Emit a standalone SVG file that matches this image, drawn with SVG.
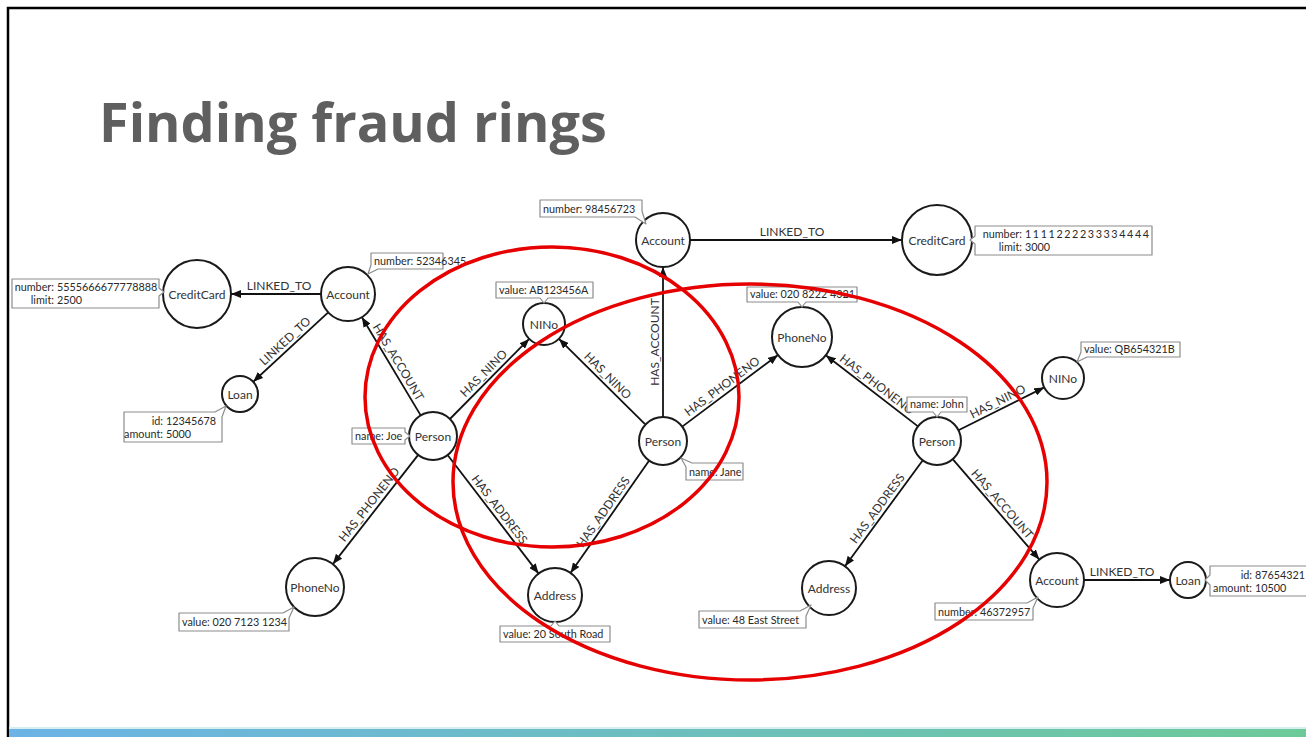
<svg xmlns="http://www.w3.org/2000/svg" width="1306" height="737" viewBox="0 0 1306 737">
  <style>
    .title { font-family: "Open Sans", "Liberation Sans", sans-serif; font-weight: 700; font-size: 54px; fill: #5f5f5f; }
    .node circle { fill: #fff; stroke: #1a1a1a; stroke-width: 2; }
    .node .lbl { font-family: Lato, "Liberation Sans", sans-serif; font-size: 12px; fill: #333; text-anchor: middle; dominant-baseline: central; }
    .callout path { fill: #fff; stroke: #8c8c8c; stroke-width: 1.2; stroke-linejoin: round; }
    .callout text { font-family: Lato, "Liberation Sans", sans-serif; font-size: 10.8px; fill: #2a2a2a; }
    .callout .k { text-anchor: end; }
    .edges line { stroke: #111; stroke-width: 1.8; }
    .edges text { font-family: Lato, "Liberation Sans", sans-serif; font-size: 12px; fill: #333; text-anchor: middle; }
    .ring { fill: none; stroke: #e60000; stroke-width: 3.5; }
  </style>
  <defs>
    <marker id="arrow" markerWidth="10" markerHeight="8" refX="10" refY="4" orient="auto" markerUnits="userSpaceOnUse">
      <path d="M0 0 L10 4 L0 8 Z" fill="#111"/>
    </marker>
    <linearGradient id="bar" x1="0" y1="0" x2="1" y2="0">
      <stop offset="0" stop-color="#6cb3e6"/>
      <stop offset="1" stop-color="#6dca98"/>
    </linearGradient>
  </defs>

  <!-- slide frame -->
  <rect width="1306" height="737" fill="#fff"/>
  <path d="M8 737 V8 H1306" fill="none" stroke="#000" stroke-width="2.5"/>
  <rect x="9" y="727" width="1297" height="2" fill="#d6eef2"/>
  <rect x="9" y="729" width="1297" height="8" fill="url(#bar)"/>

  <text class="title" x="99" y="142">Finding fraud rings</text>

  <!-- relationships -->
  <g id="edges" class="edges">
    <line x1="321" y1="294" x2="231" y2="294" marker-end="url(#arrow)"/>
    <text x="279" y="290">LINKED_TO</text>

    <line x1="328.2" y1="312.3" x2="253.2" y2="381.8" marker-end="url(#arrow)"/>
    <text transform="translate(290.7,347.1) rotate(-42.8)" y="-4">LINKED_TO</text>

    <line x1="420.7" y1="415.4" x2="361.9" y2="317.2" marker-end="url(#arrow)"/>
    <text transform="translate(391.3,366.3) rotate(59.1)" y="-4">HAS_ACCOUNT</text>

    <line x1="449.9" y1="419" x2="529.2" y2="338.9" marker-end="url(#arrow)"/>
    <text transform="translate(489.5,379) rotate(-45.3)" y="-4">HAS_NINO</text>

    <line x1="418.2" y1="454.9" x2="332.9" y2="564.1" marker-end="url(#arrow)"/>
    <text transform="translate(375.5,509.5) rotate(-52)" y="-4">HAS_PHONENO</text>

    <line x1="447.6" y1="455" x2="538.6" y2="573.6" marker-end="url(#arrow)"/>
    <text transform="translate(493.1,514.3) rotate(52.5)" y="-4">HAS_ADDRESS</text>

    <line x1="645" y1="424.1" x2="558.9" y2="338.8" marker-end="url(#arrow)"/>
    <text transform="translate(602,381.5) rotate(44.8)" y="-4">HAS_NINO</text>

    <line x1="663" y1="417" x2="663" y2="267" marker-end="url(#arrow)"/>
    <text transform="translate(663,342) rotate(-90)" y="-4">HAS_ACCOUNT</text>

    <line x1="682.2" y1="426.6" x2="778" y2="355" marker-end="url(#arrow)"/>
    <text transform="translate(727,393) rotate(-36.8)" y="-4">HAS_PHONENO</text>

    <line x1="649.2" y1="460.6" x2="570.5" y2="572.9" marker-end="url(#arrow)"/>
    <text transform="translate(609.9,516.8) rotate(-55)" y="-4">HAS_ADDRESS</text>

    <line x1="690" y1="240" x2="902" y2="240" marker-end="url(#arrow)"/>
    <text x="792" y="236">LINKED_TO</text>

    <line x1="918" y1="426.4" x2="825.8" y2="355.3" marker-end="url(#arrow)"/>
    <text transform="translate(871.9,390.9) rotate(37.6)" y="-4">HAS_PHONENO</text>

    <line x1="958.5" y1="430.3" x2="1044.2" y2="387.4" marker-end="url(#arrow)"/>
    <text transform="translate(1001.3,408.8) rotate(-26.6)" y="-4">HAS_NINO</text>

    <line x1="922.8" y1="460.3" x2="845" y2="566.2" marker-end="url(#arrow)"/>
    <text transform="translate(883.9,513.3) rotate(-53.7)" y="-4">HAS_ADDRESS</text>

    <line x1="952.7" y1="459.2" x2="1039.4" y2="559.6" marker-end="url(#arrow)"/>
    <text transform="translate(996,509.4) rotate(49.2)" y="-4">HAS_ACCOUNT</text>

    <line x1="1084" y1="580" x2="1170" y2="580" marker-end="url(#arrow)"/>
    <text x="1122" y="576">LINKED_TO</text>
  </g>

  <!-- nodes with their property callouts -->
  <g id="creditcard-1" class="node">
    <circle cx="197" cy="294" r="34"/>
    <text class="lbl" x="197" y="294">CreditCard</text>
    <g class="callout">
      <path d="M12 279 H159 V288 L164 292 L159 296 V308 H12 Z"/>
      <text class="k" x="54" y="291">number:</text><text x="57" y="291">5555666677778888</text>
      <text class="k" x="54" y="304">limit:</text><text x="57" y="304">2500</text>
    </g>
  </g>

  <g id="account-1" class="node">
    <circle cx="348" cy="294" r="27"/>
    <text class="lbl" x="348" y="294">Account</text>
    <g class="callout">
      <path d="M371 253 H443 V269 H378 L368 274 L371 265 Z"/>
      <text x="374" y="265">number: 52346345</text>
    </g>
  </g>

  <g id="loan-1" class="node">
    <circle cx="240" cy="394" r="18"/>
    <text class="lbl" x="240" y="394">Loan</text>
    <g class="callout">
      <path d="M124 412 H215 L226 406 L222 417 V442 H124 Z"/>
      <text class="k" x="163" y="425">id:</text><text x="166" y="425">12345678</text>
      <text class="k" x="163" y="438">amount:</text><text x="166" y="438">5000</text>
    </g>
  </g>

  <g id="person-joe" class="node">
    <circle cx="433" cy="436" r="24"/>
    <text class="lbl" x="433" y="436">Person</text>
    <g class="callout">
      <path d="M352 428 H405 V432 L410 436 L405 440 V444 H352 Z"/>
      <text x="355" y="440">name: Joe</text>
    </g>
  </g>

  <g id="nino-1" class="node">
    <circle cx="544" cy="324" r="21"/>
    <text class="lbl" x="544" y="324">NINo</text>
    <g class="callout">
      <path d="M496 282 H593 V298 H548 L544 303 L540 298 H496 Z"/>
      <text x="499" y="294">value: AB123456A</text>
    </g>
  </g>

  <g id="account-2" class="node">
    <circle cx="663" cy="240" r="27"/>
    <text class="lbl" x="663" y="240">Account</text>
    <g class="callout">
      <path d="M540 200 H642 V211 L646 224 L635 217 H540 Z"/>
      <text x="543" y="213">number: 98456723</text>
    </g>
  </g>

  <g id="creditcard-2" class="node">
    <circle cx="937" cy="240" r="35"/>
    <text class="lbl" x="937" y="240">CreditCard</text>
    <g class="callout">
      <path d="M975 226 H1152 V255 H975 V244 L970 240 L975 236 Z"/>
      <text class="k" x="1022" y="238">number:</text><text x="1025" y="238" textLength="124" lengthAdjust="spacing">1111222233334444</text>
      <text class="k" x="1022" y="251">limit:</text><text x="1025" y="251">3000</text>
    </g>
  </g>

  <g id="person-jane" class="node">
    <circle cx="663" cy="441" r="24"/>
    <text class="lbl" x="663" y="441">Person</text>
    <g class="callout">
      <path d="M686 467 L681 458 L692 463 H743 V480 H686 Z"/>
      <text x="689" y="476">name: Jane</text>
    </g>
  </g>

  <g id="phoneno-1" class="node">
    <circle cx="802" cy="337" r="30"/>
    <text class="lbl" x="802" y="337">PhoneNo</text>
    <g class="callout">
      <path d="M747 287 H857 V302 H806 L802 307 L798 302 H747 Z"/>
      <text x="750" y="298">value: 020 8222 4321</text>
    </g>
  </g>

  <g id="person-john" class="node">
    <circle cx="937" cy="441" r="24"/>
    <text class="lbl" x="937" y="441">Person</text>
    <g class="callout">
      <path d="M907 397 H967 V412 H941 L937 417 L933 412 H907 Z"/>
      <text x="910" y="408">name: John</text>
    </g>
  </g>

  <g id="nino-2" class="node">
    <circle cx="1063" cy="378" r="21"/>
    <text class="lbl" x="1063" y="378">NINo</text>
    <g class="callout">
      <path d="M1081 342 H1180 V357 H1087 L1077 362 L1081 352 Z"/>
      <text x="1084" y="353">value: QB654321B</text>
    </g>
  </g>

  <g id="phoneno-2" class="node">
    <circle cx="315" cy="587" r="29"/>
    <text class="lbl" x="315" y="587">PhoneNo</text>
    <g class="callout">
      <path d="M179 613 H283 L294 607 L289 618 V631 H179 Z"/>
      <text x="182" y="626">value: 020 7123 1234</text>
    </g>
  </g>

  <g id="address-1" class="node">
    <circle cx="555" cy="595" r="27"/>
    <text class="lbl" x="555" y="595">Address</text>
    <g class="callout">
      <path d="M500 626 H551 L555 621 L559 626 H610 V642 H500 Z"/>
      <text x="503" y="638">value: 20 South Road</text>
    </g>
  </g>

  <g id="address-2" class="node">
    <circle cx="829" cy="588" r="27"/>
    <text class="lbl" x="829" y="588">Address</text>
    <g class="callout">
      <path d="M699 611 H800 L811 605 L806 616 V628 H699 Z"/>
      <text x="702" y="624">value: 48 East Street</text>
    </g>
  </g>

  <g id="account-3" class="node">
    <circle cx="1057" cy="580" r="27"/>
    <text class="lbl" x="1057" y="580">Account</text>
    <g class="callout">
      <path d="M935 603 H1027 L1038 597 L1033 608 V620 H935 Z"/>
      <text x="938" y="616">number: 46372957</text>
    </g>
  </g>

  <g id="loan-2" class="node">
    <circle cx="1188" cy="580" r="18"/>
    <text class="lbl" x="1188" y="580">Loan</text>
    <g class="callout">
      <path d="M1210 566 H1312 V596 H1210 V585 L1205 580 L1210 575 Z"/>
      <text class="k" x="1252" y="579">id:</text><text x="1255" y="579">87654321</text>
      <text class="k" x="1252" y="592">amount:</text><text x="1255" y="592">10500</text>
    </g>
  </g>

  <!-- highlighted rings -->
  <g id="rings">
    <ellipse class="ring" cx="552" cy="397" rx="187" ry="150"/>
    <ellipse class="ring" cx="750" cy="482" rx="297" ry="198"/>
  </g>
</svg>
